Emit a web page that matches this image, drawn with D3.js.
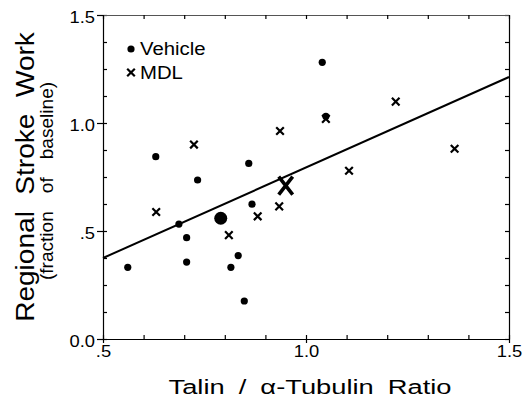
<!DOCTYPE html>
<html>
<head>
<meta charset="utf-8">
<script src="https://cdn.jsdelivr.net/npm/d3@7"></script>
<style>
  body { margin: 0; background: #fff; }
  text { font-family: "Liberation Sans", Arial, sans-serif; fill: #000; }
</style>
</head>
<body>
<div id="chart"></div>
<script>
// Values
const vehicleX = [1.040, 0.630, 1.049, 0.859, 0.733, 0.687, 0.706, 0.706, 0.561, 0.815, 0.833, 0.848, 0.867];
const vehicleY = [1.281, 0.844, 1.031, 0.813, 0.736, 0.532, 0.469, 0.356, 0.332, 0.332, 0.386, 0.176, 0.624];
const mdlX = [0.724, 0.936, 1.049, 1.221, 1.366, 1.106, 0.631, 0.810, 0.881, 0.934];
const mdlY = [0.900, 0.963, 1.019, 1.099, 0.881, 0.779, 0.588, 0.481, 0.568, 0.614];
const vehicleMean = [0.790, 0.559];
const mdlMean = [0.950, 0.710];
const fitX = [0.5, 1.5];
const fitY = [0.375, 1.213];

const xTicks = [0.5, 1.0, 1.5];
const xTickLabels = [".5", "1.0", "1.5"];
const yTicks = [0, 0.5, 1.0, 1.5];
const yTickLabels = ["0.0", ".5", "1.0", "1.5"];
const xMinor = d3.range(0.5, 1.501, 0.1);
const yMinor = d3.range(0, 1.501, 0.125);

const width = 531, height = 404;
const margin = { top: 15, right: 22, bottom: 65, left: 103 };
const iw = width - margin.left - margin.right;
const ih = height - margin.top - margin.bottom;

const svg = d3.select("#chart").append("svg")
  .attr("width", width)
  .attr("height", height);
const g = svg.append("g").attr("transform", `translate(${margin.left},${margin.top})`);

const x = d3.scaleLinear().domain([0.5, 1.5]).range([0, iw]);
const y = d3.scaleLinear().domain([0, 1.5]).range([ih, 0]);

function styleAxis(sel) {
  sel.selectAll("path, line").attr("stroke", "#000").attr("stroke-width", 1.2);
  sel.selectAll("text").attr("font-size", 17).attr("font-family", '"Liberation Sans", Arial, sans-serif');
}

// frame: minor ticks point inward on all four sides
g.append("g")
  .call(d3.axisRight(y).tickValues(yMinor).tickSize(4).tickFormat("").tickSizeOuter(0))
  .call(styleAxis);
g.append("g").attr("transform", `translate(${iw},0)`)
  .call(d3.axisLeft(y).tickValues(yMinor).tickSize(4).tickFormat("").tickSizeOuter(0))
  .call(styleAxis);
g.append("g")
  .call(d3.axisBottom(x).tickValues(xMinor).tickSize(4).tickFormat("").tickSizeOuter(0))
  .call(styleAxis)
  .select(".domain").attr("stroke", "#555").attr("stroke-width", 1);
g.append("g").attr("transform", `translate(0,${ih})`)
  .call(d3.axisTop(x).tickValues(xMinor).tickSize(4).tickFormat("").tickSizeOuter(0))
  .call(styleAxis);

// major ticks with labels (text slightly widened like the original)
const yAxis = g.append("g")
  .call(d3.axisLeft(y).tickValues(yTicks).tickSize(6)
    .tickFormat((d, i) => yTickLabels[i]))
  .call(styleAxis);
yAxis.select(".domain").remove();
yAxis.selectAll("text")
  .attr("x", 0).attr("y", 0).attr("dy", null)
  .attr("transform", "translate(-8,7) scale(1.08,1)");

const xAxis = g.append("g").attr("transform", `translate(0,${ih})`)
  .call(d3.axisBottom(x).tickValues(xTicks).tickSize(4)
    .tickFormat((d, i) => xTickLabels[i]))
  .call(styleAxis);
xAxis.select(".domain").remove();
xAxis.selectAll("text")
  .attr("y", 0).attr("dy", null)
  .attr("transform", "translate(0,18) scale(1.08,1)");

// regression line
g.append("line")
  .attr("x1", x(fitX[0])).attr("y1", y(fitY[0]))
  .attr("x2", x(fitX[1])).attr("y2", y(fitY[1]))
  .attr("stroke", "#000")
  .attr("stroke-width", 2);

// vehicle dots
g.selectAll("circle.vehicle")
  .data(d3.zip(vehicleX, vehicleY))
  .enter().append("circle")
  .attr("class", "vehicle")
  .attr("cx", d => x(d[0]))
  .attr("cy", d => y(d[1]))
  .attr("r", 3.6)
  .attr("fill", "#000");

// MDL crosses
const cross = s => `M${-s},${-s}L${s},${s}M${s},${-s}L${-s},${s}`;
g.selectAll("path.mdl")
  .data(d3.zip(mdlX, mdlY))
  .enter().append("path")
  .attr("class", "mdl")
  .attr("transform", d => `translate(${x(d[0])},${y(d[1])})`)
  .attr("d", cross(3.8))
  .attr("stroke", "#000")
  .attr("stroke-width", 2.2)
  .attr("fill", "none");

// group means
g.append("circle")
  .attr("cx", x(vehicleMean[0]))
  .attr("cy", y(vehicleMean[1]))
  .attr("r", 6.5)
  .attr("fill", "#000");
g.append("path")
  .attr("transform", `translate(${x(mdlMean[0])},${y(mdlMean[1])})`)
  .attr("d", "M-7,-9L7,9M7,-9L-7,9")
  .attr("stroke", "#000")
  .attr("stroke-width", 3.6)
  .attr("fill", "none");

// legend
const legend = svg.append("g").attr("transform", "translate(131,0)");
legend.append("circle").attr("cx", 0).attr("cy", 49).attr("r", 3.6).attr("fill", "#000");
legend.append("text").attr("transform", "translate(9,55) scale(1.13,1)")
  .attr("font-size", 18).text("Vehicle");
legend.append("path")
  .attr("transform", "translate(0,72.5)")
  .attr("d", cross(3.8))
  .attr("stroke", "#000").attr("stroke-width", 2.2);
legend.append("text").attr("transform", "translate(9,79) scale(1.13,1)")
  .attr("font-size", 18).text("MDL");

// axis titles
svg.append("text")
  .attr("transform", "translate(310,394) scale(1.3,1)")
  .attr("text-anchor", "middle")
  .attr("font-size", 21)
  .attr("word-spacing", 5)
  .text("Talin / \u03b1-Tubulin Ratio");

svg.append("text")
  .attr("transform", "translate(34,177) rotate(-90) scale(1.08,1)")
  .attr("text-anchor", "middle")
  .attr("font-size", 26)
  .attr("word-spacing", 8)
  .text("Regional Stroke Work");

svg.append("text")
  .attr("transform", "translate(53,181) rotate(-90) scale(1.06,1)")
  .attr("text-anchor", "middle")
  .attr("font-size", 18)
  .attr("word-spacing", 12)
  .text("(fraction of baseline)");
</script>
</body>
</html>
